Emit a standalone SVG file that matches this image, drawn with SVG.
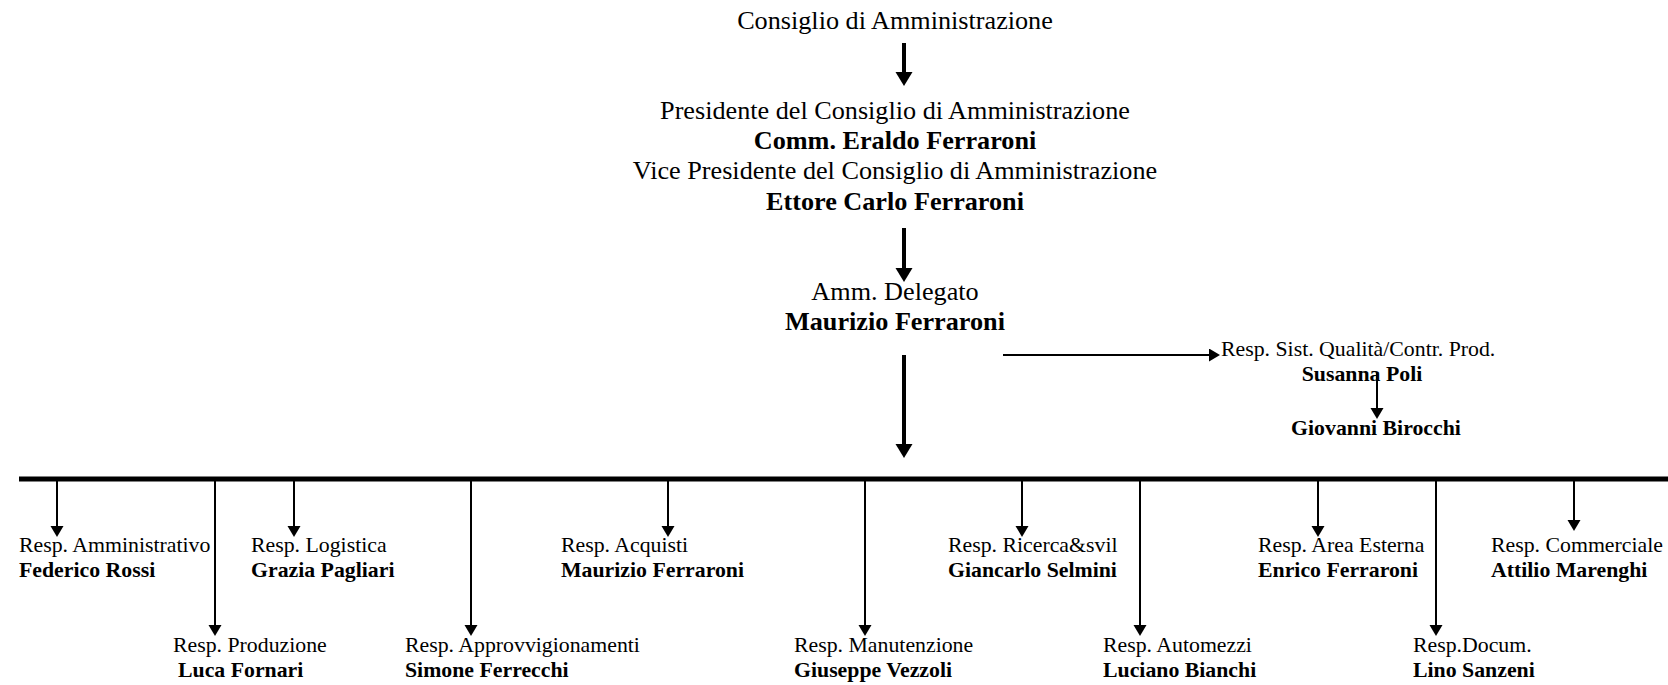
<svg xmlns="http://www.w3.org/2000/svg" width="1668" height="685" viewBox="0 0 1668 685">
<style>
.t{font-family:"Liberation Serif","Times New Roman",serif;fill:#000}
.big{font-size:26.2px}
.sm{font-size:21.8px}
.b{font-weight:bold}
.mid{text-anchor:middle}
.thick{stroke:#000;stroke-width:4;fill:none}
.thin{stroke:#000;stroke-width:2;fill:none}
.bus{stroke:#000;stroke-width:5;fill:none}
</style>
<defs>
<marker id="hb" markerUnits="userSpaceOnUse" markerWidth="16" markerHeight="18" refX="0" refY="8.5" orient="auto">
<path d="M0,0 L14,8.5 L0,17 Z" fill="#000"/>
</marker>
<marker id="hs" markerUnits="userSpaceOnUse" markerWidth="13" markerHeight="14" refX="0" refY="6.5" orient="auto">
<path d="M0,0 L11,6.5 L0,13 Z" fill="#000"/>
</marker>
</defs>
<rect width="1668" height="685" fill="#fff"/>

<g id="connectors">
<line class="thick" x1="904" y1="43" x2="904" y2="72" marker-end="url(#hb)"/>
<line class="thick" x1="904" y1="228" x2="904" y2="268" marker-end="url(#hb)"/>
<line class="thick" x1="904" y1="355" x2="904" y2="444" marker-end="url(#hb)"/>
<line class="thin" x1="1003" y1="355" x2="1209" y2="355" marker-end="url(#hs)"/>
<line class="thin" x1="1377" y1="372" x2="1377" y2="408" marker-end="url(#hs)"/>
<line class="bus" x1="19" y1="479" x2="1668" y2="479"/>
<line class="thin" x1="57" y1="481" x2="57" y2="526" marker-end="url(#hs)"/>
<line class="thin" x1="215" y1="481" x2="215" y2="625" marker-end="url(#hs)"/>
<line class="thin" x1="294" y1="481" x2="294" y2="526" marker-end="url(#hs)"/>
<line class="thin" x1="471" y1="481" x2="471" y2="625" marker-end="url(#hs)"/>
<line class="thin" x1="668" y1="481" x2="668" y2="526" marker-end="url(#hs)"/>
<line class="thin" x1="865" y1="481" x2="865" y2="625" marker-end="url(#hs)"/>
<line class="thin" x1="1022" y1="481" x2="1022" y2="526" marker-end="url(#hs)"/>
<line class="thin" x1="1140" y1="481" x2="1140" y2="625" marker-end="url(#hs)"/>
<line class="thin" x1="1318" y1="481" x2="1318" y2="526" marker-end="url(#hs)"/>
<line class="thin" x1="1436" y1="481" x2="1436" y2="625" marker-end="url(#hs)"/>
<line class="thin" x1="1574" y1="481" x2="1574" y2="520" marker-end="url(#hs)"/>
</g>

<g id="cda">
<text class="t big mid" x="895" y="29">Consiglio di Amministrazione</text>
</g>
<g id="presidenza">
<text class="t big mid" x="895" y="119">Presidente del Consiglio di Amministrazione</text>
<text class="t big mid b" x="895" y="149">Comm. Eraldo Ferraroni</text>
<text class="t big mid" x="895" y="179">Vice Presidente del Consiglio di Amministrazione</text>
<text class="t big mid b" x="895" y="210">Ettore Carlo Ferraroni</text>
</g>
<g id="amm-delegato">
<text class="t big mid" x="895" y="300">Amm. Delegato</text>
<text class="t big mid b" x="895" y="330">Maurizio Ferraroni</text>
</g>
<g id="qualita">
<text class="t sm" x="1221" y="356">Resp. Sist. Qualità/Contr. Prod.</text>
<text class="t sm b mid" x="1362" y="381">Susanna Poli</text>
</g>
<g id="birocchi">
<text class="t sm b mid" x="1376" y="435">Giovanni Birocchi</text>
</g>

<g id="amministrativo">
<text class="t sm" x="19" y="552">Resp. Amministrativo</text>
<text class="t sm b" x="19" y="577">Federico Rossi</text>
</g>
<g id="logistica">
<text class="t sm" x="251" y="552">Resp. Logistica</text>
<text class="t sm b" x="251" y="577">Grazia Pagliari</text>
</g>
<g id="acquisti">
<text class="t sm" x="561" y="552">Resp. Acquisti</text>
<text class="t sm b" x="561" y="577">Maurizio Ferraroni</text>
</g>
<g id="ricerca">
<text class="t sm" x="948" y="552">Resp. Ricerca&amp;svil</text>
<text class="t sm b" x="948" y="577">Giancarlo Selmini</text>
</g>
<g id="area-esterna">
<text class="t sm" x="1258" y="552">Resp. Area Esterna</text>
<text class="t sm b" x="1258" y="577">Enrico Ferraroni</text>
</g>
<g id="commerciale">
<text class="t sm" x="1491" y="552">Resp. Commerciale</text>
<text class="t sm b" x="1491" y="577">Attilio Marenghi</text>
</g>

<g id="produzione">
<text class="t sm" x="173" y="652">Resp. Produzione</text>
<text class="t sm b" x="178" y="677">Luca Fornari</text>
</g>
<g id="approvvigionamenti">
<text class="t sm" x="405" y="652">Resp. Approvvigionamenti</text>
<text class="t sm b" x="405" y="677">Simone Ferrecchi</text>
</g>
<g id="manutenzione">
<text class="t sm" x="794" y="652">Resp. Manutenzione</text>
<text class="t sm b" x="794" y="677">Giuseppe Vezzoli</text>
</g>
<g id="automezzi">
<text class="t sm" x="1103" y="652">Resp. Automezzi</text>
<text class="t sm b" x="1103" y="677">Luciano Bianchi</text>
</g>
<g id="documentazione">
<text class="t sm" x="1413" y="652">Resp.Docum.</text>
<text class="t sm b" x="1413" y="677">Lino Sanzeni</text>
</g>
</svg>
